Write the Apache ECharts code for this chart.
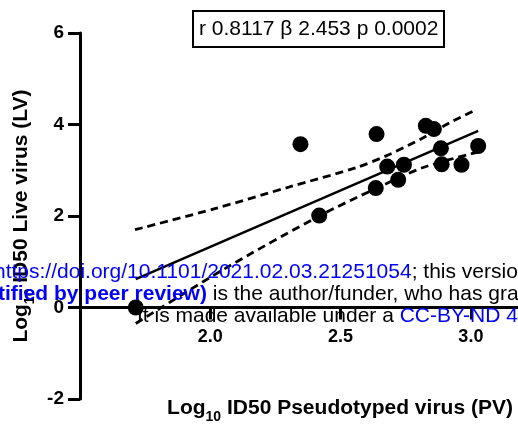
<!DOCTYPE html>
<html>
<head>
<meta charset="utf-8">
<style>
  html, body { margin: 0; padding: 0; background: #fff; }
  #chart { width: 518px; height: 426px; }
</style>
<script src="https://cdn.jsdelivr.net/npm/echarts@6/dist/echarts.min.js"></script>
</head>
<body>
<div id="chart"></div>
<script>
// scatter points (log10 ID50)
const pvValues = [1.714, 2.346, 2.418, 2.635, 2.638, 2.679, 2.721, 2.743, 2.827, 2.858, 2.885, 2.888, 2.964, 3.028];
const lvValues = [0.0, 3.57, 2.01, 2.61, 3.79, 3.08, 2.79, 3.12, 3.97, 3.90, 3.48, 3.13, 3.12, 3.53];

// regression line and confidence band
const fitX = [1.714, 3.028];
const fitY = [0.62, 3.86];
const upperX = [1.711, 2.017, 2.306, 2.561, 2.689, 2.817, 2.919, 3.022];
const upperY = [1.70, 2.16, 2.64, 3.06, 3.35, 3.71, 4.04, 4.33];
const lowerX = [1.714, 2.056, 2.418, 2.635, 2.817, 3.022];
const lowerY = [-0.35, 0.85, 2.0, 2.6, 3.06, 3.39];

const xTicks = [2.0, 2.5, 3.0];
const statText = 'r 0.8117 β 2.453 p 0.0002';

const pairs = (xs, ys) => xs.map((x, i) => [x, ys[i]]);
const FONT = 'Liberation Sans, Arial, sans-serif';

// rich styles for "Log10 ..." axis titles with a subscript
const nameRich = {
  a: { fontFamily: FONT, fontSize: 21, fontWeight: 'bold', fill: '#000', lineHeight: 22 },
  s: { fontFamily: FONT, fontSize: 14, fontWeight: 'bold', fill: '#000', verticalAlign: 'bottom', padding: [18, 0, 0, 0] }
};

const chart = echarts.init(document.getElementById('chart'));

const option = {
  animation: false,
  backgroundColor: '#fff',
  title: {
    text: statText,
    left: 193,
    top: 11,
    padding: [8, 6, 7, 6],
    borderWidth: 2,
    borderColor: '#000',
    textStyle: { fontFamily: FONT, fontSize: 21, fontWeight: 'normal', color: '#000' }
  },
  grid: {
    left: 80,
    right: -5,
    top: 33,
    bottom: 27,
    outerBoundsMode: 'none'
  },
  xAxis: {
    type: 'value',
    min: 1.5,
    max: 3.2,
    interval: 0.5,
    position: 'bottom',
    // axis sits on y = 0, which is 2 units (91.5 px) above the grid bottom
    offset: -91.5,
    axisLine: { onZero: false, lineStyle: { color: '#000', width: 3 } },
    axisTick: { show: true, length: 12, lineStyle: { width: 3, color: '#000' }, customValues: xTicks },
    axisLabel: {
      customValues: xTicks,
      margin: 21,
      fontFamily: FONT,
      fontSize: 18,
      fontWeight: 'bold',
      color: '#000',
      formatter: v => v.toFixed(1)
    },
    splitLine: { show: false }
  },
  yAxis: {
    type: 'value',
    min: -2,
    max: 6,
    interval: 2,
    axisLine: { show: true, onZero: false, lineStyle: { color: '#000', width: 3 } },
    axisTick: { show: true, length: 12, lineStyle: { width: 3, color: '#000' } },
    axisLabel: {
      margin: 16,
      fontFamily: FONT,
      fontSize: 19,
      fontWeight: 'bold',
      color: '#000'
    },
    splitLine: { show: false }
  },
  series: [
    {
      type: 'line',
      data: pairs(upperX, upperY),
      showSymbol: false,
      smooth: 0.3,
      lineStyle: { color: '#000', width: 2.8, type: [8, 5] },
      z: 3
    },
    {
      type: 'line',
      data: pairs(lowerX, lowerY),
      showSymbol: false,
      smooth: 0.3,
      lineStyle: { color: '#000', width: 2.8, type: [8, 5] },
      z: 3
    },
    {
      type: 'line',
      data: pairs(fitX, fitY),
      showSymbol: false,
      lineStyle: { color: '#000', width: 2.5 },
      z: 3
    },
    {
      type: 'scatter',
      data: pairs(pvValues, lvValues),
      symbolSize: 16,
      itemStyle: { color: '#000', opacity: 1 },
      z: 4
    }
  ],
  graphic: [
    {
      type: 'text',
      x: 21,
      y: 216,
      rotation: Math.PI / 2,
      z: 50,
      style: {
        text: '{a|Log}{s|10}{a| ID50 Live virus (LV)}',
        align: 'center',
        verticalAlign: 'middle',
        rich: nameRich
      }
    },
    {
      type: 'text',
      x: 340,
      y: 408,
      z: 50,
      style: {
        text: '{a|Log}{s|10}{a| ID50 Pseudotyped virus (PV)}',
        align: 'center',
        verticalAlign: 'middle',
        rich: nameRich
      }
    },
    // medRxiv watermark lines over the plot
    {
      type: 'text',
      x: -6,
      y: 272,
      z: 100,
      style: {
        text: '{b|https://doi.org/10.1101/2021.02.03.21251054}{k|; this version posted February 5, 2021.}',
        verticalAlign: 'middle',
        rich: {
          b: { fontFamily: FONT, fontSize: 21, fill: '#0000ff' },
          k: { fontFamily: FONT, fontSize: 21, fill: '#000' }
        }
      }
    },
    {
      type: 'text',
      x: -2,
      y: 294,
      z: 100,
      style: {
        text: '{bb|tified by peer review)}{k| is the author/funder, who has granted medRxiv}',
        verticalAlign: 'middle',
        rich: {
          bb: { fontFamily: FONT, fontSize: 21, fontWeight: 'bold', fill: '#0000ff' },
          k: { fontFamily: FONT, fontSize: 21, fill: '#000' }
        }
      }
    },
    {
      type: 'text',
      x: 137,
      y: 316,
      z: 100,
      style: {
        text: '{k|It is made available under a }{b|CC-BY-ND 4.0 International license}',
        verticalAlign: 'middle',
        rich: {
          b: { fontFamily: FONT, fontSize: 21, fill: '#0000ff' },
          k: { fontFamily: FONT, fontSize: 21, fill: '#000' }
        }
      }
    }
  ]
};

chart.setOption(option);
</script>
</body>
</html>
